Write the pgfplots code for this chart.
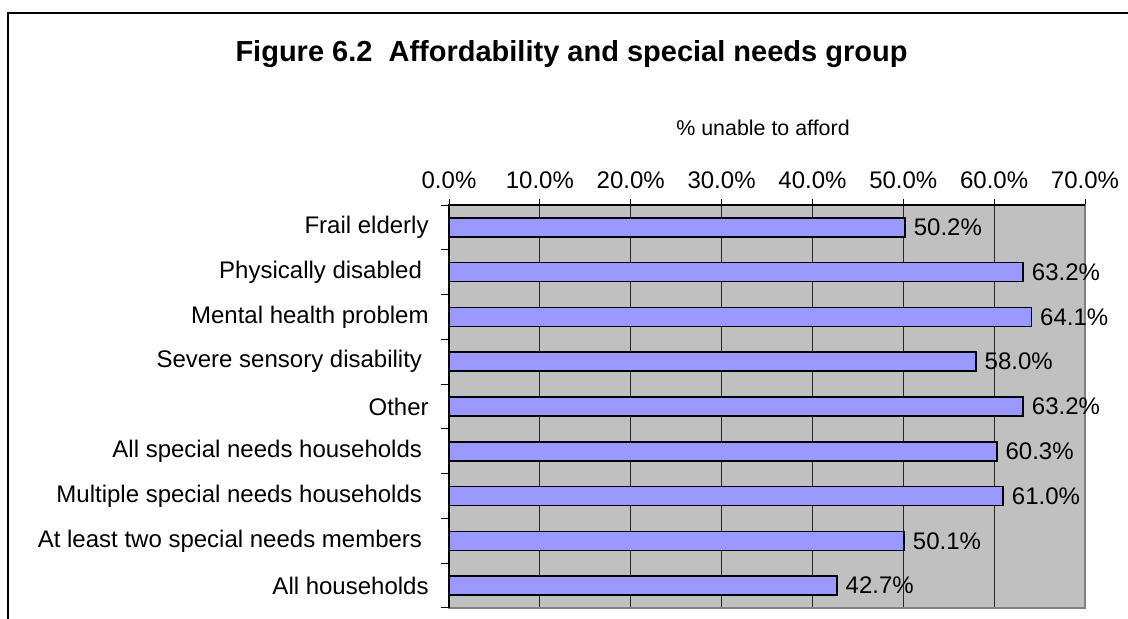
\documentclass[border=0pt]{standalone}
\usepackage{fontspec}
\setmainfont{Liberation Sans}
\usepackage{pgfplots}
\pgfplotsset{compat=1.18}
\definecolor{barblue}{HTML}{9999FF}
\definecolor{bggray}{HTML}{C0C0C0}
\definecolor{edgegray}{HTML}{808080}
\newcommand{\tsp}{\kern3.3pt}
\begin{document}
\begin{tikzpicture}
\useasboundingbox (0,0) rectangle (564pt,309.5pt);
\draw[line width=1pt] (4pt,-2pt) -- (4pt,303pt) -- (570pt,303pt);
\node[anchor=base, font=\fontsize{14.5}{17}\selectfont\bfseries] at (285.75pt,278.5pt) {Figure 6.2\ \ Affordability and special needs group};
\node[anchor=base, font=\fontsize{10.7}{13}\selectfont] at (381.5pt,241.5pt) {\% unable to afford};
\begin{axis}[
  at={(224.5pt,5.5pt)}, anchor=south west,
  width=318pt, height=201.5pt, scale only axis,
  xmin=0, xmax=70, ymin=-0.5, ymax=8.5,
  xbar, bar width=9.5pt,
  clip=false,
  axis background/.style={fill=bggray},
  axis line style={draw=edgegray, line width=0.75pt},
  xtick={0,10,20,30,40,50,60,70},
  xticklabels={0.0\%,10.0\%,20.0\%,30.0\%,40.0\%,50.0\%,60.0\%,70.0\%},
  xtick pos=right, xticklabel pos=right,
  xmajorgrids, major x grid style={draw=black!85, line width=0.5pt},
  tick align=outside, major tick length=3pt,
  x tick style={draw=black, line width=0.5pt},
  ytick={0,1,2,3,4,5,6,7,8},
  yticklabels={All households, At least two special needs members\tsp, Multiple special needs households\tsp, All special needs households\tsp, Other, Severe sensory disability\tsp, Mental health problem, Physically disabled\tsp, Frail elderly},
  ytick pos=left,
  y tick style={draw=none},
  minor ytick={-0.5,0.5,1.5,2.5,3.5,4.5,5.5,6.5,7.5,8.5},
  minor tick length=4pt,
  minor y tick style={draw=black, line width=0.5pt},
  ticklabel style={font=\fontsize{12}{14}\selectfont},
  xticklabel style={anchor=south, inner sep=0pt, yshift=5pt},
  yticklabel style={anchor=east, inner sep=0pt, xshift=-7pt},
  /pgf/number format/assume math mode=true,
  nodes near coords={\pgfmathprintnumber[fixed,fixed zerofill,precision=1]{\pgfplotspointmeta}\%},
  nodes near coords style={anchor=west, inner sep=0pt, xshift=4pt, font=\fontsize{12}{14}\selectfont, text=black},
]
\addplot[fill=barblue, draw=black, line width=0.75pt] coordinates {
  (42.7,0) (50.1,1) (61.0,2) (60.3,3) (63.2,4) (58.0,5) (64.1,6) (63.2,7) (50.2,8)
};
\draw[black, line width=0.75pt] (rel axis cs:0,0) -- (rel axis cs:0,1) -- (rel axis cs:1,1);
\end{axis}
\end{tikzpicture}
\end{document}
